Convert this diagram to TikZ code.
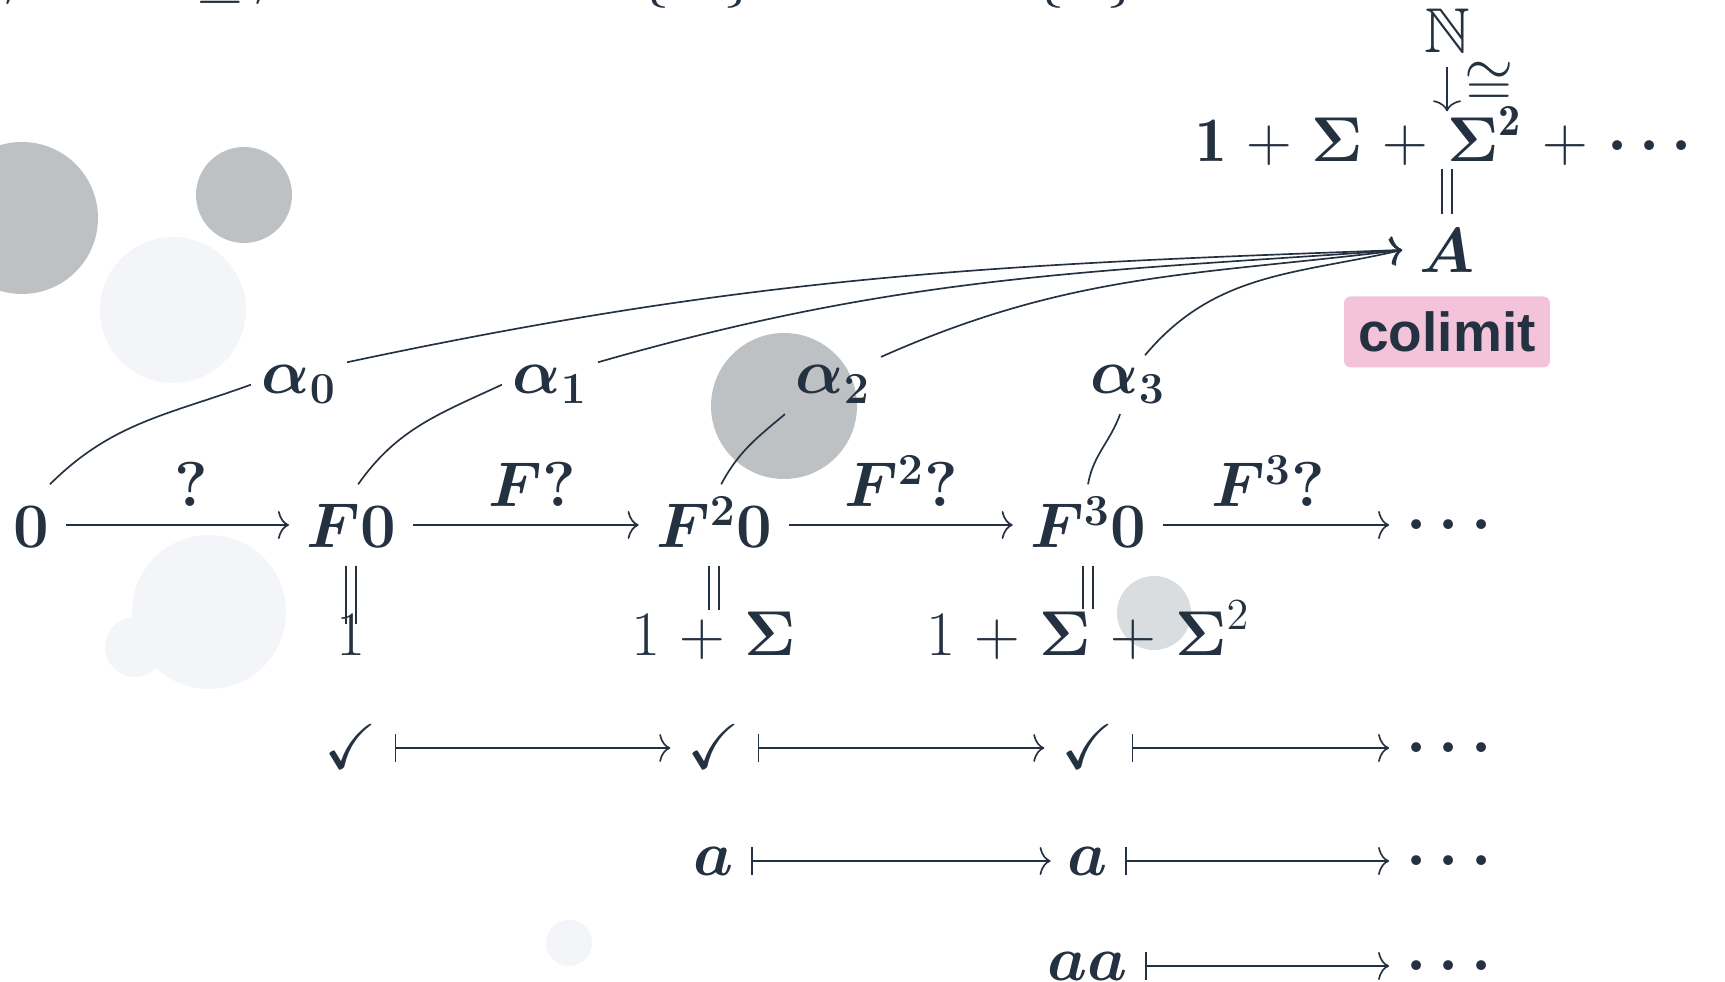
\documentclass[tikz,border=0pt]{standalone}
\usepackage{fix-cm}
\usepackage{amsmath,amssymb}
\usepackage{fontspec}
\newfontfamily\colfont{Liberation Sans}
\usetikzlibrary{arrows.meta}
\definecolor{ink}{HTML}{243140}
\definecolor{cgray}{HTML}{BDC1C4}
\definecolor{clight}{HTML}{F4F5F9}
\definecolor{cmid}{HTML}{D9DDE0}
\definecolor{cpink}{HTML}{F3C3D9}
\medmuskip=5.5mu plus 2mu minus 4mu
\begin{document}
\begin{tikzpicture}[x=0.3pt,y=0.3pt,
  every node/.style={text=ink},
  mfont/.style={font=\fontsize{19}{23}\selectfont},
  obj/.style={mfont, inner xsep=5pt, inner ysep=0pt, text height=18.9pt, text depth=5.1pt},
  chk/.style={mfont, inner xsep=5pt, inner ysep=0pt, text height=16pt, text depth=3.4pt},
  aobj/.style={mfont, inner xsep=5pt, inner ysep=0pt, text height=12pt, text depth=3pt},
  dotsobj/.style={mfont, inner xsep=5pt, inner ysep=0pt, text height=9.5pt, text depth=0pt},
  albl/.style={mfont, inner sep=3pt, anchor=base},
  lbl/.style={mfont, inner sep=0pt, anchor=base, yshift=5.4pt},
  frag/.style={mfont, inner sep=0pt, anchor=base},
  ln/.style={line width=0.5pt, draw=ink},
  arr/.style={ln, arrows={-Computer Modern Rightarrow[length=3.3pt,width=8.4pt]}},
  mapsto/.style={ln, arrows={Bar[width=8.5pt]-Computer Modern Rightarrow[length=3.3pt,width=8.4pt]}},
  eqa/.style={ln, transform canvas={xshift=1.45pt}},
  eqb/.style={ln, transform canvas={xshift=-1.45pt}}
]
\useasboundingbox (0,0) rectangle (1725,982);
% background circles
\fill[cgray] (22,764) circle[radius=76];
\fill[cgray] (244,787) circle[radius=48];
\fill[clight] (173,672) circle[radius=73];
\fill[cgray] (784,576) circle[radius=73];
\fill[clight] (209,370) circle[radius=77];
\fill[clight] (135,335) circle[radius=30];
\fill[cmid] (1154,369) circle[radius=37];
\fill[clight] (569,39) circle[radius=23];
% clipped fragments at the top edge
\node[frag] (fa) at (220,969) {$=$};
\node[frag] (fb) at (12,952) {${}'$};
\node[frag] (fc) at (262,952) {${}'$};
\node[frag] (fd) at (697,989) {$\{\hspace{0.85em}\}$};
\node[frag] (fe) at (1086,989) {$\{\hspace{0.66em}\}$};
% top column
\node[obj] (nN) at (1447,952) {$\mathbb{N}$};
\node[obj] (ntop) at (1450,843) {$\mathbf{1}+\boldsymbol{\Sigma}+\boldsymbol{\Sigma}^{\mathbf{2}}+\boldsymbol{\cdots}$};
\node[obj] (nA) at (1447,732) {$\boldsymbol{A}$};
\node[fill=cpink, rounded corners=2pt, minimum width=61.8pt, minimum height=21.3pt,
      inner sep=0pt, font=\colfont\bfseries\fontsize{16.5}{20}\selectfont] (col) at (1447,650) {colimit};
% main row
\node[obj] (n0) at (31,457) {$\boldsymbol{0}$};
\node[obj] (nF0) at (351,457) {$\boldsymbol{F0}$};
\node[obj] (nF20) at (714,457) {$\boldsymbol{F^2 0}$};
\node[obj] (nF30) at (1088,457) {$\boldsymbol{F^3 0}$};
\node[dotsobj] (nd1) at (1455,457) {$\boldsymbol{\cdots}$};
% second row
\node[obj] (n1) at (351,349) {$1$};
\node[obj] (n1S) at (714,349) {$1+\boldsymbol{\Sigma}$};
\node[obj] (n1SS) at (1088,349) {$1+\boldsymbol{\Sigma}+\boldsymbol{\Sigma}^2$};
% check row
\node[chk] (c1) at (351,234) {$\checkmark$};
\node[chk] (c2) at (714,234) {$\checkmark$};
\node[chk] (c3) at (1088,234) {$\checkmark$};
\node[dotsobj] (c4) at (1455,234) {$\boldsymbol{\cdots}$};
% a row
\node[aobj] (a2) at (714,121) {$\boldsymbol{a}$};
\node[aobj] (a3) at (1088,121) {$\boldsymbol{a}$};
\node[dotsobj] (a4) at (1455,121) {$\boldsymbol{\cdots}$};
% aa row
\node[aobj] (b3) at (1088,16) {$\boldsymbol{aa}$};
\node[dotsobj] (b4) at (1455,16) {$\boldsymbol{\cdots}$};
% alpha labels
\node[albl] (al0) at (299,588) {$\boldsymbol{\alpha_0}$};
\node[albl] (al1) at (550,588) {$\boldsymbol{\alpha_1}$};
\node[albl] (al2) at (833,588) {$\boldsymbol{\alpha_2}$};
\node[albl] (al3) at (1128,588) {$\boldsymbol{\alpha_3}$};
% main row arrows
\draw[arr] (n0) -- (nF0);
\draw[arr] (nF0) -- (nF20);
\draw[arr] (nF20) -- (nF30);
\draw[arr] (nF30) -- (nd1);
\path (n0.center) -- node[lbl]{$\boldsymbol{?}$} (nF0.center);
\path (nF0.center) -- node[lbl]{$\boldsymbol{F?}$} (nF20.center);
\path (nF20.center) -- node[lbl]{$\boldsymbol{F^2?}$} (nF30.center);
\path (nF30.center) -- node[lbl, xshift=-1pt]{$\boldsymbol{F^3?}$} (nd1.center);
% equalities
\draw[eqa, shorten >=-9.6pt] (nF0) -- (n1);
\draw[eqb, shorten >=-9.6pt] (nF0) -- (n1);
\draw[eqa, shorten >=-5.4pt] (nF20) -- (n1S);
\draw[eqb, shorten >=-5.4pt] (nF20) -- (n1S);
\draw[eqa, shorten >=-5.1pt] (nF30) -- (n1SS);
\draw[eqb, shorten >=-5.1pt] (nF30) -- (n1SS);
\draw[eqa, shorten <=-3.3pt, shorten >=-1.5pt] (nA |- ntop.south) -- (nA);
\draw[eqb, shorten <=-3.3pt, shorten >=-1.5pt] (nA |- ntop.south) -- (nA);
% N -> top
\draw[arr, shorten <=-1pt, shorten >=-3.9pt] (nN) -- node[anchor=west, inner sep=0pt, xshift=5pt, mfont]{$\cong$} (nN |- ntop.north);
% maps-to rows
\draw[mapsto] (c1) -- (c2);
\draw[mapsto] (c2) -- (c3);
\draw[mapsto] (c3) -- (c4);
\draw[mapsto] (a2) -- (a3);
\draw[mapsto] (a3) -- (a4);
\draw[mapsto] (b3) -- (b4);
% cocone
\draw[ln] (n0.65) to[out=45,in=200] (al0.west);
\draw[arr] (al0.25) to[out=12,in=182] (nA.west);
\draw[ln] (nF0.80) to[out=55,in=205] (al1.west);
\draw[arr] (al1.25) to[out=16,in=184] (nA.west);
\draw[ln] (nF20.80) to[out=62,in=220] (al2.south west);
\draw[arr] (al2.30) to[out=24,in=187] (nA.west);
\draw[ln] (nF30.north) to[out=80,in=250] (al3.255);
\draw[arr] (al3.60) to[out=50,in=193] (nA.west);
\end{tikzpicture}
\end{document}
